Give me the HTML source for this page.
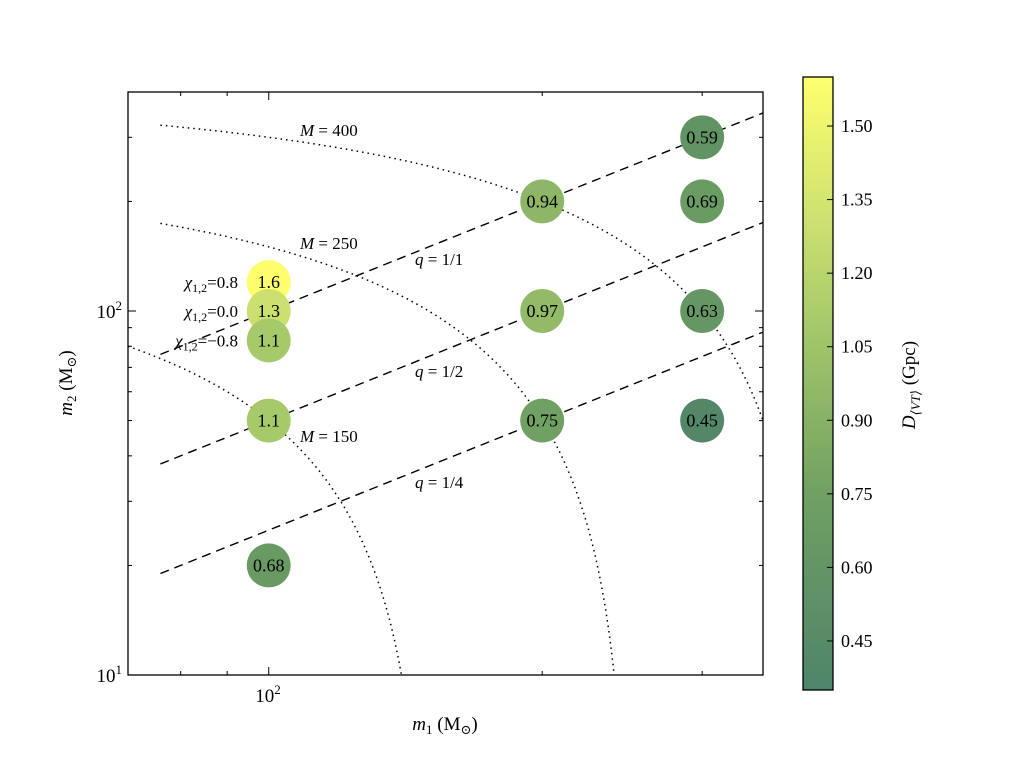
<!DOCTYPE html>
<html><head><meta charset="utf-8"><style>
body{margin:0;background:#fff;width:1024px;height:768px;overflow:hidden}
svg text{font-family:"Liberation Serif","DejaVu Serif",serif;fill:#000}
</style></head><body>
<svg id="chart" width="1024" height="768" xmlns="http://www.w3.org/2000/svg">
<defs>
<linearGradient id="cbgrad" x1="0" y1="1" x2="0" y2="0">
<stop offset="0" stop-color="#4e8569"/>
<stop offset="0.32" stop-color="#70a062"/>
<stop offset="0.6" stop-color="#a6ca6a"/>
<stop offset="0.76" stop-color="#cbe070"/>
<stop offset="1" stop-color="#ffff6e"/>
</linearGradient>
</defs>
<g id="plot"></g>
</svg>
<script>
const m1Values=[100,100,100,100,100,200,200,200,300,300,300,300];
const m2Values=[120,100,83,50,20,200,100,50,300,200,100,50];
const dVtValues=[1.6,1.3,1.1,1.1,0.68,0.94,0.97,0.75,0.59,0.69,0.63,0.45];
const dVtLabels=["1.6","1.3","1.1","1.1","0.68","0.94","0.97","0.75","0.59","0.69","0.63","0.45"];
const qValues=[1,0.5,0.25];
const qLabels=["q = 1/1","q = 1/2","q = 1/4"];
const totalMasses=[400,250,150];
const chiLabels=["0.8","0.0","\u22120.8"];
const cbTicks=[0.45,0.60,0.75,0.90,1.05,1.20,1.35,1.50];

const NS="http://www.w3.org/2000/svg";
const g=document.getElementById('plot');
const X0=128,X1=763,Y0=92,Y1=675;
const xMin=Math.log10(70),xMax=Math.log10(350);
const yMin=1,yMax=2+(311-92)/364;
const xs=v=>X0+(Math.log10(v)-xMin)/(xMax-xMin)*(X1-X0);
const ys=v=>Y1-(Math.log10(v)-yMin)/(yMax-yMin)*(Y1-Y0);
const cMin=0.35,cMax=1.6,CB0=77,CB1=690;
const cs=v=>CB1-(v-cMin)/(cMax-cMin)*(CB1-CB0);
const stops=[[0.35,[74,127,104]],[0.75,[112,160,98]],[1.1,[166,202,106]],[1.3,[203,224,112]],[1.6,[255,255,110]]];
function color(v){
  for(let i=0;i<stops.length-1;i++){const[a,ca]=stops[i],[b,cb]=stops[i+1];
    if(v<=b||i==stops.length-2){let t=Math.max(0,Math.min(1,(v-a)/(b-a)));
      return 'rgb('+ca.map((c,k)=>Math.round(c+(cb[k]-c)*t)).join(',')+')';}}
}
function el(tag,attrs,parent){const e=document.createElementNS(NS,tag);for(const k in attrs)e.setAttribute(k,attrs[k]);(parent||g).appendChild(e);return e;}
function txt(x,y,s,size,anchor,parent){const t=el('text',{x:x,y:y,'font-size':size,'text-anchor':anchor||'middle'},parent);t.textContent=s;return t;}

const cp=el('clipPath',{id:'clip'});el('rect',{x:X0,y:Y0,width:X1-X0,height:Y1-Y0},cp);

qValues.forEach((q,i)=>{
  const a=76,b=350;
  const l=el('line',{x1:xs(a),y1:ys(q*a),x2:xs(b),y2:ys(q*b),stroke:'#000','stroke-width':1.4,'stroke-dasharray':'9,6','clip-path':'url(#clip)'});
  
  
  const t=txt(415,[265,377,488][i],'',17,'start');
  t.innerHTML='<tspan font-style="italic">q</tspan> = '+qLabels[i].slice(4);
  
  
});
totalMasses.forEach((M,i)=>{
  let d='';const start=M==150?70:76;
  for(let k=0;k<=200;k++){const m1=start+(M-10-start)*k/200;const m2=M-m1;if(m2<=0)break;
    d+=(k?'L':'M')+xs(m1).toFixed(1)+','+ys(m2).toFixed(1);}
  const p=el('path',{d:d,fill:'none',stroke:'#000','stroke-width':1.5,'stroke-dasharray':'1.5,4','clip-path':'url(#clip)'});
  
  
  const t=txt(300,[136,249,442][i],'',17,'start');
  t.innerHTML='<tspan font-style="italic">M</tspan> = '+M;
  
  
});
m1Values.forEach((m1,i)=>{
  const cx=xs(m1),cy=ys(m2Values[i]);
  const c=el('circle',{cx:cx,cy:cy,r:22,fill:color(dVtValues[i])});
  
  
  const t=txt(cx,cy+6,dVtLabels[i],18);
  
  
});
chiLabels.forEach((s,i)=>{
  const t=txt(238,ys(m2Values[i])+6,'',17,'end');
  t.innerHTML='<tspan font-style="italic">χ</tspan><tspan font-size="12" dy="4">1,2</tspan><tspan dy="-4">='+s+'</tspan>';
  
  
});
const fr=el('rect',{x:X0,y:Y0,width:X1-X0,height:Y1-Y0,fill:'none',stroke:'#000','stroke-width':1.3});


const tk={stroke:'#000','stroke-width':1};
[80,90,100,200,300].forEach(v=>{const x=xs(v),L=v==100?8:4;
  el('line',Object.assign({x1:x,y1:Y1,x2:x,y2:Y1-L},tk));el('line',Object.assign({x1:x,y1:Y0,x2:x,y2:Y0+L},tk));});
[10,20,30,40,50,60,70,80,90,100,200,300].forEach(v=>{const y=ys(v),L=(v==10||v==100)?8:4;
  el('line',Object.assign({x1:X0,y1:y,x2:X0+L,y2:y},tk));el('line',Object.assign({x1:X1,y1:y,x2:X1-L,y2:y},tk));});
let t=txt(268,702,'',19);t.innerHTML='10<tspan font-size="13" dy="-8">2</tspan>';

t=txt(122,682,'',19,'end');t.innerHTML='10<tspan font-size="13" dy="-8">1</tspan>';

t=txt(122,318,'',19,'end');t.innerHTML='10<tspan font-size="13" dy="-8">2</tspan>';

t=txt(445,730,'',19);t.innerHTML='<tspan font-style="italic">m</tspan><tspan font-size="13" dy="4">1</tspan><tspan dy="-4"> (M</tspan><tspan font-size="13" dy="4">⊙</tspan><tspan dy="-4">)</tspan>';

t=txt(0,0,'',19);t.setAttribute('transform','translate(72,383) rotate(-90)');
t.innerHTML='<tspan font-style="italic">m</tspan><tspan font-size="13" dy="4">2</tspan><tspan dy="-4"> (M</tspan><tspan font-size="13" dy="4">⊙</tspan><tspan dy="-4">)</tspan>';

const cb=el('rect',{x:803,y:CB0,width:30,height:CB1-CB0,fill:'url(#cbgrad)',stroke:'#000','stroke-width':1.3});


cbTicks.forEach(v=>{const y=cs(v);
  el('line',Object.assign({x1:833,y1:y,x2:827,y2:y},tk));
  const l=txt(841,y+6,v.toFixed(2),18,'start');
  
  });
t=txt(0,0,'',19);t.setAttribute('transform','translate(915,385) rotate(-90)');
t.innerHTML='<tspan font-style="italic">D</tspan><tspan font-size="13" dy="5" font-style="italic">⟨VT⟩</tspan><tspan dy="-5"> (Gpc)</tspan>';

</script>
</body></html>
